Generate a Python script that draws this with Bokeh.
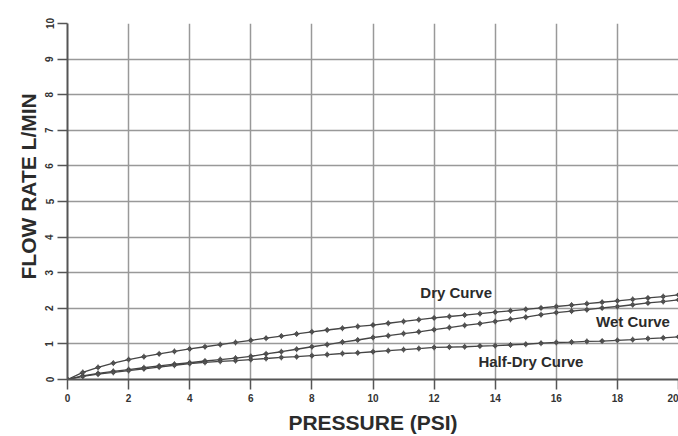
from bokeh.plotting import figure
from bokeh.models import Label, FixedTicker, Title
from bokeh.embed import file_html
from bokeh.resources import INLINE

pressure = [i * 0.5 for i in range(41)]
dry = [0, 0.20, 0.34, 0.46, 0.56, 0.64, 0.72, 0.79, 0.86, 0.92, 0.98, 1.04, 1.10, 1.16,
       1.22, 1.28, 1.34, 1.39, 1.44, 1.49, 1.53, 1.58, 1.63, 1.68, 1.73, 1.77, 1.81, 1.85,
       1.89, 1.93, 1.97, 2.01, 2.05, 2.09, 2.13, 2.17, 2.21, 2.25, 2.29, 2.33, 2.38]
wet = [0, 0.10, 0.17, 0.23, 0.28, 0.33, 0.38, 0.43, 0.47, 0.52, 0.56, 0.60, 0.65, 0.72,
       0.78, 0.85, 0.92, 0.98, 1.05, 1.11, 1.18, 1.23, 1.29, 1.34, 1.40, 1.46, 1.52, 1.57,
       1.63, 1.69, 1.75, 1.82, 1.88, 1.92, 1.96, 2.01, 2.05, 2.10, 2.15, 2.19, 2.24]
half_dry = [0, 0.09, 0.15, 0.20, 0.25, 0.30, 0.35, 0.40, 0.45, 0.48, 0.51, 0.53, 0.56, 0.59,
            0.62, 0.64, 0.67, 0.70, 0.73, 0.75, 0.78, 0.81, 0.84, 0.87, 0.90, 0.91, 0.92, 0.94,
            0.95, 0.97, 0.99, 1.02, 1.04, 1.05, 1.07, 1.08, 1.10, 1.12, 1.15, 1.17, 1.20]

x_ticks = [0, 2, 4, 6, 8, 10, 12, 14, 16, 18, 20]
y_ticks = [0, 1, 2, 3, 4, 5, 6, 7, 8, 9, 10]

curve_names = ["Dry Curve", "Wet Curve", "Half-Dry Curve"]
curve_label_x = [11.55, 17.3, 13.45]
curve_label_y = [2.44, 1.62, 0.50]

FONT = "Liberation Sans"
INK = "#2b2b2b"

p = figure(width=678, height=436, x_range=(0, 20), y_range=(0, 10),
           output_backend="svg", toolbar_location=None,
           min_border_left=67, min_border_right=0, min_border_top=23,
           min_border_bottom=56)
p.outline_line_color = None
p.background_fill_color = "white"

p.xaxis.ticker = FixedTicker(ticks=x_ticks)
p.yaxis.ticker = FixedTicker(ticks=y_ticks)
p.xgrid.ticker = FixedTicker(ticks=x_ticks)
p.ygrid.ticker = FixedTicker(ticks=y_ticks)
p.xaxis.minor_tick_line_color = None
p.yaxis.minor_tick_line_color = None

for ax in (p.xaxis, p.yaxis):
    ax.axis_line_color = "#555555"
    ax.axis_line_width = 2
    ax.major_tick_line_color = "#555555"
    ax.major_tick_line_width = 1.5
    ax.major_tick_out = 10
    ax.major_tick_in = 0
    ax.major_label_text_font = FONT
    ax.major_label_text_font_style = "bold"
    ax.major_label_text_font_size = "10px"
    ax.major_label_text_color = "#333333"
    ax.major_label_standoff = 4

p.yaxis.major_label_orientation = "vertical"

p.xaxis.axis_label = "PRESSURE (PSI)"
p.xaxis.axis_label_text_font = FONT
p.xaxis.axis_label_text_font_style = "bold"
p.xaxis.axis_label_text_font_size = "21px"
p.xaxis.axis_label_text_color = INK
p.xaxis.axis_label_standoff = 6

p.add_layout(Title(text="FLOW RATE L/MIN", align="left", offset=100, standoff=6,
                   text_font=FONT, text_font_style="bold", text_font_size="21px",
                   text_color=INK), "left")

p.xgrid.grid_line_color = "#999999"
p.ygrid.grid_line_color = "#999999"
p.xgrid.grid_line_width = 1.5
p.ygrid.grid_line_width = 1.5

for ys in (dry, wet, half_dry):
    p.line(pressure, ys, line_color="#444444", line_width=1.3)
    p.scatter(pressure, ys, marker="circle", size=3.5, fill_color="#444444",
              line_color="#444444")
    p.scatter(pressure, ys, marker="cross", size=6, line_color="#555555", line_width=1)

for name, lx, ly in zip(curve_names, curve_label_x, curve_label_y):
    p.add_layout(Label(x=lx, y=ly, text=name, text_font=FONT, text_font_style="bold",
                       text_font_size="15px", text_color=INK, text_baseline="middle",
                       text_align="left"))

open("out.html", "w").write(file_html(p, INLINE))
